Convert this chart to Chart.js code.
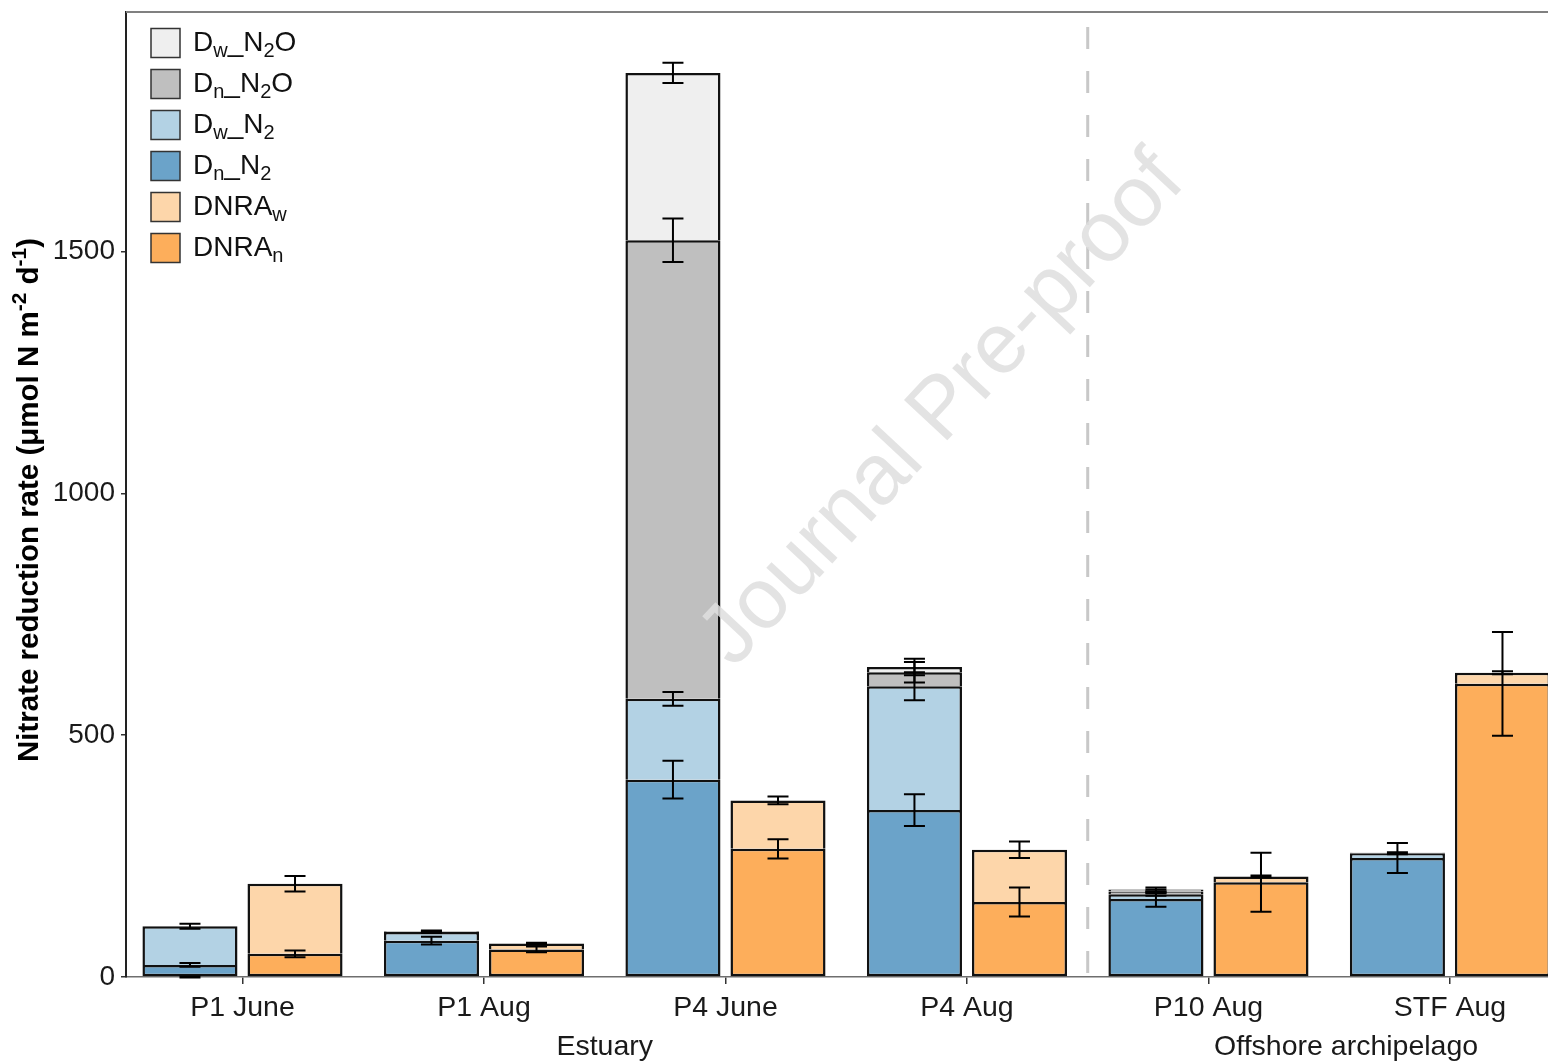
<!DOCTYPE html>
<html>
<head>
<meta charset="utf-8">
<title>Nitrate reduction rate</title>
<script src="https://cdn.jsdelivr.net/npm/chart.js@4.4.0/dist/chart.umd.min.js"></script>
<style>
    html, body { margin: 0; padding: 0; background: #fff; overflow: hidden; }
    canvas { display: block; }
</style>
</head>
<body>
<canvas id="chart" width="1548" height="1063"></canvas>
<script>
// sites / months on the x axis
const categories = ['P1 June', 'P1 Aug', 'P4 June', 'P4 Aug', 'P10 Aug', 'STF Aug'];
const groupNames = ['Estuary', 'Offshore archipelago'];
const yTicks = [0, 500, 1000, 1500];

// denitrification stack (bottom -> top)
const dnN2 = [25, 75, 408, 345, 161, 246];
const dnN2Sd = [4, 8, 39, 33, 16, 31];
const dwN2 = [80, 18, 167, 256, 10, 10];
const dwN2Sd = [5, 2, 14, 29, 3, 2];
const dnN2O = [null, 1, 948, 29, 6, 1];
const dnN2OSd = [1, 1, 45, 21, 4, null];
const dwN2O = [null, 1, 346, 11, 4, 0.5];
const dwN2OSd = [null, 1, 21, 17, 4, null];

// DNRA stack (bottom -> top)
const dnraN = [48, 57, 265, 155, 196, 606];
const dnraNSd = [7, 6, 20, 30, 61, 107];
const dnraW = [145, 12, 100, 108, 12, 23];
const dnraWSd = [16, 2, 8, 17, 2, 3];

const FONT = '"Liberation Sans", Arial, Helvetica, sans-serif';
Chart.defaults.font.family = FONT;

function pts(arr) {
    return arr.map((v, i) => ({ x: i + 1, y: v }));
}

function makeSet(label, values, sd, stack, color, isBase) {
    return {
        label: label,
        data: pts(values),
        sd: sd,
        stack: stack,
        backgroundColor: color,
        borderColor: '#111',
        borderWidth: 2.5,
        // inner segments share the line drawn by the one below
        borderSkipped: isBase ? false : 'start',
        categoryPercentage: 0.87,
        barPercentage: 0.905
    };
}

const datasets = [
    makeSet('Dn_N2', dnN2, dnN2Sd, 'D', '#6ba3c9', true),
    makeSet('Dw_N2', dwN2, dwN2Sd, 'D', '#b3d2e4'),
    makeSet('Dn_N2O', dnN2O, dnN2OSd, 'D', '#bfbfbf'),
    makeSet('Dw_N2O', dwN2O, dwN2OSd, 'D', '#efefef'),
    makeSet('DNRAn', dnraN, dnraNSd, 'DNRA', '#fdae5b', true),
    makeSet('DNRAw', dnraW, dnraWSd, 'DNRA', '#fdd6aa')
];

// legend rows, top to bottom: dataset index + text pieces (sub = subscript)
const legendRows = [
    { ds: 3, parts: [['D'], ['w', 'sub'], ['_'], ['N'], ['2', 'sub'], ['O']] },
    { ds: 2, parts: [['D'], ['n', 'sub'], ['_'], ['N'], ['2', 'sub'], ['O']] },
    { ds: 1, parts: [['D'], ['w', 'sub'], ['_'], ['N'], ['2', 'sub']] },
    { ds: 0, parts: [['D'], ['n', 'sub'], ['_'], ['N'], ['2', 'sub']] },
    { ds: 5, parts: [['DNRA'], ['w', 'sub']] },
    { ds: 4, parts: [['DNRA'], ['n', 'sub']] }
];

const yTitle = [['Nitrate reduction rate (μmol N m'], ['-2', 'sup'], [' d'], ['-1', 'sup'], [')']];

function drawRich(ctx, parts, x, y, size, weight, measureOnly) {
    let w = 0;
    parts.forEach(p => {
        const s = p[1] ? Math.round(size * 0.7) : size;
        ctx.font = weight + ' ' + s + 'px ' + FONT;
        let dy = 0;
        if (p[1] === 'sub') dy = size * 0.24;
        if (p[1] === 'sup') dy = -size * 0.4;
        if (!measureOnly) ctx.fillText(p[0], x + w, y + dy);
        w += ctx.measureText(p[0]).width;
    });
    return w;
}

// error bars at the cumulative top of each segment
const errorBars = {
    id: 'errorBars',
    afterDatasetsDraw(chart) {
        const ctx = chart.ctx;
        const yScale = chart.scales.y;
        const sets = chart.data.datasets;
        ctx.save();
        ctx.strokeStyle = '#000';
        ctx.lineWidth = 2;
        sets.forEach((ds, di) => {
            const meta = chart.getDatasetMeta(di);
            ds.sd.forEach((sd, i) => {
                if (sd == null) return;
                let top = 0;
                if (ds.data[i].y != null) {
                    for (let k = 0; k <= di; k++) {
                        if (sets[k].stack === ds.stack && sets[k].data[i].y != null) top += sets[k].data[i].y;
                    }
                }
                const cx = meta.data[i].x;
                const y1 = yScale.getPixelForValue(top + sd);
                const y2 = yScale.getPixelForValue(top - sd);
                ctx.beginPath();
                ctx.moveTo(cx, y1); ctx.lineTo(cx, y2);
                ctx.moveTo(cx - 10.5, y1); ctx.lineTo(cx + 10.5, y1);
                ctx.moveTo(cx - 10.5, y2); ctx.lineTo(cx + 10.5, y2);
                ctx.stroke();
            });
        });
        ctx.restore();
    }
};

const decorations = {
    id: 'decorations',
    beforeDatasetsDraw(chart) {
        const ctx = chart.ctx;
        const area = chart.chartArea;
        const x = chart.scales.x;
        ctx.save();
        // top panel border
        ctx.strokeStyle = '#808080';
        ctx.lineWidth = 2;
        ctx.beginPath();
        ctx.moveTo(area.left, area.top);
        ctx.lineTo(area.right, area.top);
        ctx.stroke();
        // dashed separator between estuary and offshore sites
        const sx = x.getPixelForValue(4.5);
        ctx.strokeStyle = '#c8c8c8';
        ctx.lineWidth = 3;
        ctx.setLineDash([22, 22]);
        ctx.lineDashOffset = 29;
        ctx.beginPath();
        ctx.moveTo(sx, area.top);
        ctx.lineTo(sx, area.bottom);
        ctx.stroke();
        ctx.restore();
    },
    afterDraw(chart) {
        const ctx = chart.ctx;
        const x = chart.scales.x;
        const sets = chart.data.datasets;
        ctx.save();

        // group labels under the site labels
        ctx.fillStyle = '#1a1a1a';
        ctx.font = '28.5px ' + FONT;
        ctx.textAlign = 'center';
        ctx.textBaseline = 'alphabetic';
        ctx.fillText(groupNames[0], x.getPixelForValue(2.5), 1055);
        ctx.fillText(groupNames[1], x.getPixelForValue(5.57), 1055);

        // y axis title
        ctx.save();
        ctx.translate(38, 500);
        ctx.rotate(-Math.PI / 2);
        ctx.textAlign = 'left';
        ctx.fillStyle = '#000';
        const tw = drawRich(ctx, yTitle, 0, 0, 29.5, 'bold', true);
        drawRich(ctx, yTitle, -tw / 2, 0, 29.5, 'bold', false);
        ctx.restore();

        // legend
        legendRows.forEach((row, r) => {
            const cy = 43 + r * 41;
            ctx.fillStyle = sets[row.ds].backgroundColor;
            ctx.fillRect(151, cy - 14.5, 29, 29);
            ctx.strokeStyle = '#333';
            ctx.lineWidth = 1.5;
            ctx.strokeRect(151, cy - 14.5, 29, 29);
            ctx.fillStyle = '#111';
            ctx.textAlign = 'left';
            drawRich(ctx, row.parts, 193, cy + 7.5, 28, 'normal', false);
        });

        // watermark
        ctx.translate(943, 410);
        ctx.rotate(-47 * Math.PI / 180);
        ctx.font = '86px ' + FONT;
        ctx.textAlign = 'center';
        ctx.textBaseline = 'middle';
        ctx.fillStyle = 'rgba(222,222,222,0.85)';
        ctx.fillText('Journal Pre-proof', 0, 0);
        ctx.restore();
    }
};

new Chart(document.getElementById('chart'), {
    type: 'bar',
    data: { datasets: datasets },
    options: {
        responsive: false,
        animation: false,
        devicePixelRatio: 1,
        layout: { padding: { top: 12, left: 0, right: 0, bottom: 0 } },
        plugins: {
            legend: { display: false },
            tooltip: { enabled: false }
        },
        scales: {
            x: {
                type: 'linear',
                stacked: true,
                offset: false,
                min: 0.5176,
                max: 6.406,
                afterBuildTicks: axis => { axis.ticks = categories.map((c, i) => ({ value: i + 1 })); },
                afterFit: axis => {
                    axis.height = 86;
                    axis.paddingLeft = 0;
                    axis.paddingRight = 0;
                },
                ticks: {
                    autoSkip: false,
                    maxRotation: 0,
                    padding: 7,
                    color: '#1a1a1a',
                    font: { size: 28.5 },
                    callback: v => categories[Math.round(v) - 1]
                },
                grid: { offset: false, drawOnChartArea: false, tickLength: 7, color: '#333', lineWidth: 1.5 },
                border: { color: '#6e6e6e', width: 1.5 }
            },
            y: {
                stacked: true,
                min: 0,
                max: 1995,
                afterBuildTicks: axis => { axis.ticks = yTicks.map(v => ({ value: v })); },
                afterFit: axis => {
                    axis.width = 126;
                    axis.paddingTop = 0;
                    axis.paddingBottom = 0;
                },
                ticks: { padding: 6, color: '#1a1a1a', font: { size: 28 }, callback: v => String(v) },
                grid: { drawOnChartArea: false, tickLength: 5, color: '#333', lineWidth: 1.5 },
                border: { color: '#222', width: 2 }
            }
        }
    },
    plugins: [decorations, errorBars]
});
</script>
</body>
</html>
